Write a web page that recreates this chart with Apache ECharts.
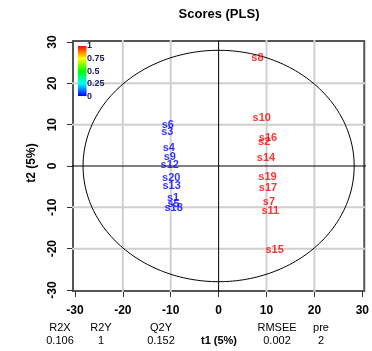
<!DOCTYPE html>
<html>
<head>
<meta charset="utf-8">
<script src="https://cdn.jsdelivr.net/npm/echarts@6/dist/echarts.min.js"></script>
<style>
html,body{margin:0;padding:0;background:#fff;}
#chart{width:372px;height:351px;}
</style>
</head>
<body>
<div id="chart"></div>
<script>
// ---- data ----
const sampleNames = ['s1','s2','s3','s4','s5','s6','s7','s8','s9','s10','s11','s12','s13','s14','s15','s16','s17','s18','s19','s20'];
const t1Scores = [-9.5, 9.5, -10.7, -10.4, -9.4, -10.6, 10.5, 8.1, -10.2, 9.0, 10.8, -10.2, -9.8, 9.9, 11.7, 10.3, 10.3, -9.4, 10.2, -9.9];
const t2Scores = [-7.7, 5.9, 8.3, 4.3, -9.2, 9.9, -8.6, 26.2, 2.3, 11.7, -10.8, 0.2, -4.8, 2.0, -20.3, 6.9, -5.4, -10.2, -2.7, -3.0];
const responseY = [0, 1, 0, 0, 0, 0, 1, 1, 0, 1, 1, 0, 0, 1, 1, 1, 1, 0, 1, 0];
const tickValues = [-30, -20, -10, 0, 10, 20, 30];
const gridValues = [-20, -10, 10, 20];
const colorBarLabels = ['1', '0.75', '0.5', '0.25', '0'];
const summaryHeaders = ['R2X', 'R2Y', 'Q2Y', 'RMSEE', 'pre'];
const summaryValues = ['0.106', '1', '0.152', '0.002', '2'];
const ellipseRadiusT1 = 28.3;
const ellipseRadiusT2 = 28.0;

// ---- helpers ----
function colorFor(v) { return v >= 0.5 ? '#ff0000' : '#0000ff'; }

const ellipsePts = [];
for (let i = 0; i <= 240; i++) {
  const a = 2 * Math.PI * i / 240;
  ellipsePts.push([ellipseRadiusT1 * Math.cos(a), ellipseRadiusT2 * Math.sin(a)]);
}

const scoreData = sampleNames.map((n, i) => ({
  name: n,
  value: [t1Scores[i], t2Scores[i]],
  label: { color: colorFor(responseY[i]) }
}));

const gridSeries = [];
gridValues.forEach(v => {
  gridSeries.push({ type: 'line', data: [[v, -40], [v, 40]], showSymbol: false, silent: true, lineStyle: { color: '#cfcfcf', width: 2 }, z: 1 });
  gridSeries.push({ type: 'line', data: [[-40, v], [40, v]], showSymbol: false, silent: true, lineStyle: { color: '#cfcfcf', width: 2 }, z: 1 });
});

const font = 'Liberation Sans, Arial, sans-serif';
const chart = echarts.init(document.getElementById('chart'), null, { renderer: 'canvas' });

const sumX = [60, 101, 161, 277, 321];
const gfx = [];
gfx.push({ type: 'text', x: 219, y: 14, style: { text: 'Scores (PLS)', font: 'bold 13px ' + font, fill: '#000', align: 'center', verticalAlign: 'middle' } });
gfx.push({ type: 'text', x: 32, y: 163, rotation: Math.PI / 2, style: { text: 't2 (5%)', font: 'bold 12px ' + font, fill: '#000', align: 'center', verticalAlign: 'middle' } });
gfx.push({ type: 'text', x: 219, y: 341, style: { text: 't1 (5%)', font: 'bold 11px ' + font, fill: '#000', align: 'center', verticalAlign: 'middle' } });
summaryHeaders.forEach((h, i) => {
  gfx.push({ type: 'text', x: sumX[i], y: 327.5, style: { text: h, font: '11px ' + font, fill: '#000', align: 'center', verticalAlign: 'middle' } });
  gfx.push({ type: 'text', x: sumX[i], y: 341, style: { text: summaryValues[i], font: '11px ' + font, fill: '#000', align: 'center', verticalAlign: 'middle' } });
});
gfx.push({ type: 'rect', shape: { x: 78, y: 46, width: 8.5, height: 50 }, style: { fill: new echarts.graphic.LinearGradient(0, 0, 0, 1, [
  { offset: 0, color: '#ff0000' },
  { offset: 0.12, color: '#ff8000' },
  { offset: 0.25, color: '#ffff00' },
  { offset: 0.5, color: '#00ff00' },
  { offset: 0.75, color: '#00ffff' },
  { offset: 1, color: '#0000ff' }
]) }, z: 10 });
colorBarLabels.forEach((t, i) => {
  gfx.push({ type: 'text', x: 87, y: 46 + i * 12.6, style: { text: t, font: 'bold 9px ' + font, fill: '#1a1a5e', align: 'left', verticalAlign: 'middle' }, z: 10 });
});

chart.setOption({
  animation: false,
  backgroundColor: '#fff',
  grid: { left: 73, top: 41, width: 292, height: 250, show: true, borderColor: '#555', borderWidth: 2, backgroundColor: 'rgba(0,0,0,0)' },
  xAxis: {
    type: 'value', min: -30.4, max: 30.4,
    axisLine: { show: false, onZero: false },
    axisTick: { show: true, length: 6, inside: false, customValues: tickValues, lineStyle: { color: '#333', width: 1 } },
    axisLabel: { customValues: tickValues, margin: 14, fontFamily: font, fontSize: 12, fontWeight: 'bold', color: '#000' },
    splitLine: { show: false }
  },
  yAxis: {
    type: 'value', min: -30.25, max: 30.25,
    axisLine: { show: false, onZero: false },
    axisTick: { show: true, length: 6, inside: false, customValues: tickValues, lineStyle: { color: '#333', width: 1 } },
    axisLabel: { customValues: tickValues, margin: 14, rotate: 90, fontFamily: font, fontSize: 12, fontWeight: 'bold', color: '#000' },
    splitLine: { show: false }
  },
  graphic: gfx,
  series: gridSeries.concat([
    {
      type: 'line', data: [[0, -40], [0, 40]], showSymbol: false, silent: true, lineStyle: { color: '#000', width: 1 }, z: 2
    },
    {
      type: 'line', data: [[-40, 0], [40, 0]], showSymbol: false, silent: true, lineStyle: { color: '#000', width: 1 }, z: 2
    },
    {
      type: 'line', data: ellipsePts, showSymbol: false, smooth: false, silent: true,
      lineStyle: { color: '#000', width: 1 }, z: 3
    },
    {
      type: 'scatter', data: scoreData, symbolSize: 0, silent: true,
      label: { show: true, position: 'inside', formatter: p => p.name, fontFamily: font, fontSize: 11, fontWeight: 'bold' },
      z: 5
    }
  ])
});
</script>
</body>
</html>
